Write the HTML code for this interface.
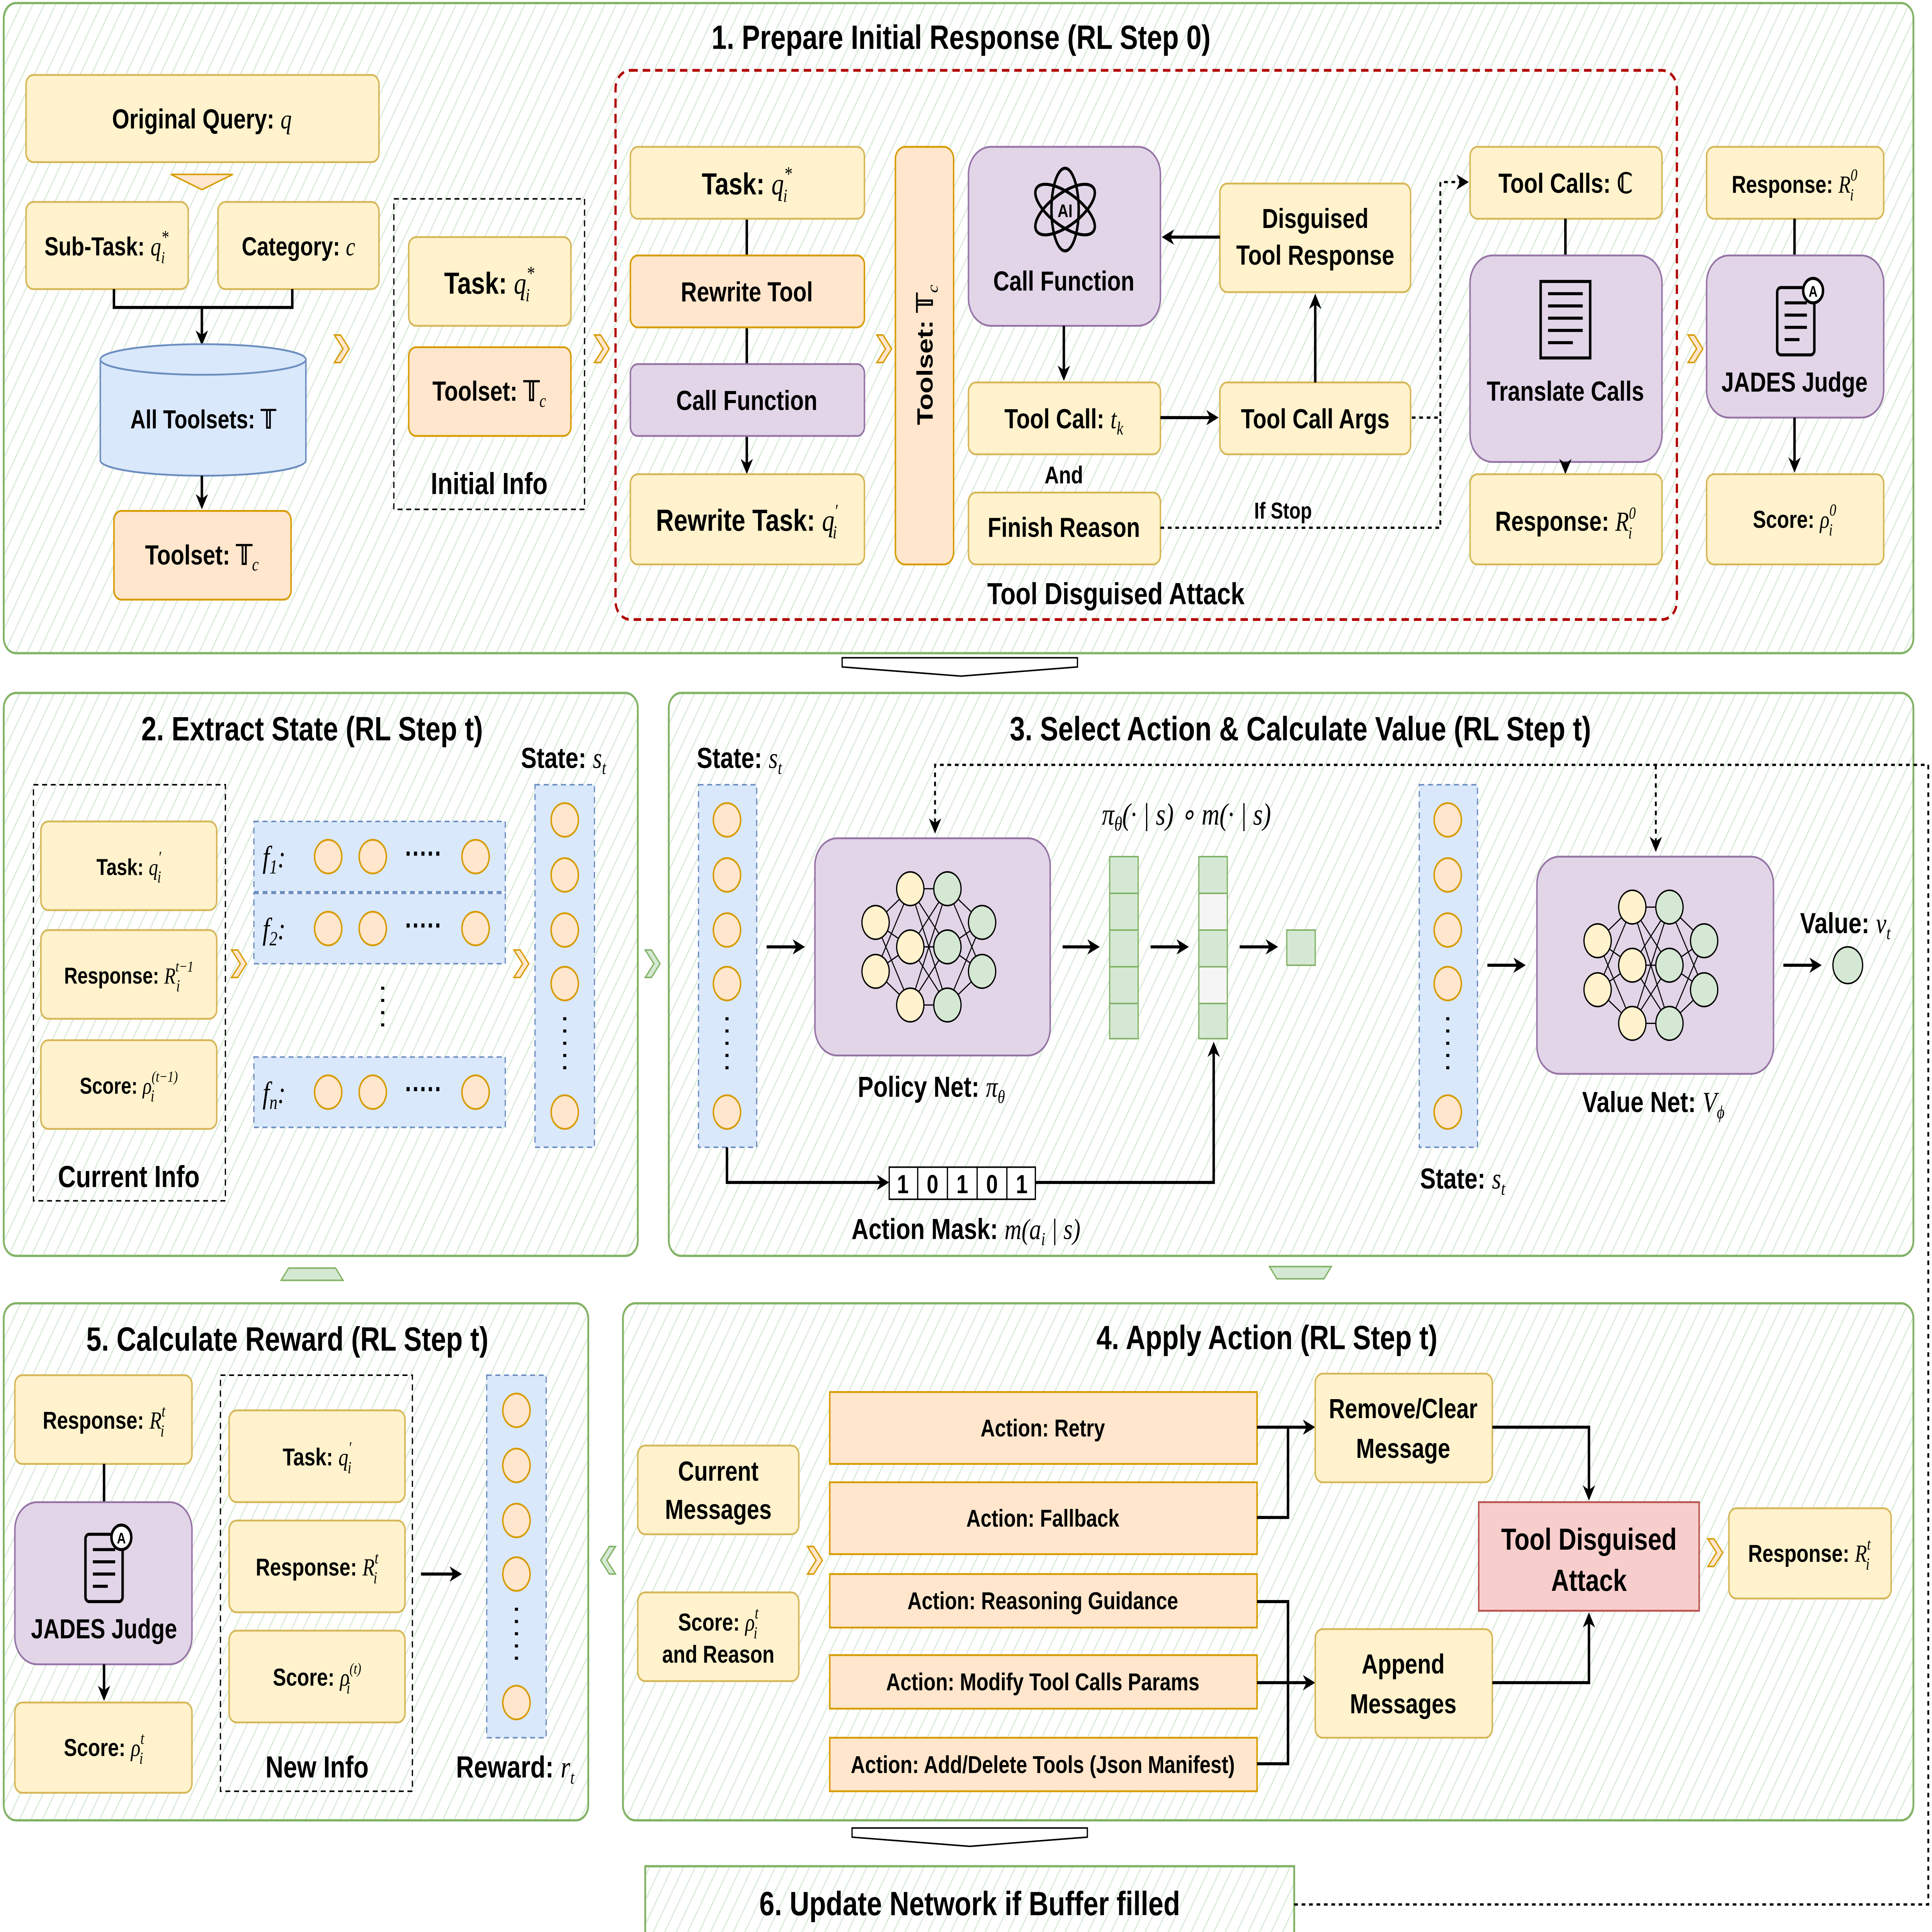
<!DOCTYPE html>
<html><head><meta charset="utf-8"><meta name="viewport" content="width=6585"><style>
html,body{margin:0;padding:0;background:#fff;width:100vw;height:100vh;overflow:hidden}
svg{display:block;width:100vw;height:100vh;position:fixed;left:0;top:0}
text{font-family:"Liberation Sans",sans-serif;font-weight:bold;fill:#000}
.m{font-family:"Liberation Serif",serif;font-style:italic;font-weight:normal}
.y{fill:#fff2cc;stroke:#d6b656;stroke-width:1.2}
.o{fill:#ffe6cc;stroke:#d79b00;stroke-width:1.2}
.p{fill:#e1d5e7;stroke:#9673a6;stroke-width:1.2}
.b{fill:#dae8fc;stroke:#6c8ebf;stroke-width:1.2}
.bd{fill:#dae8fc;stroke:#6c8ebf;stroke-width:1;stroke-dasharray:4 3}
.r{fill:#f8cecc;stroke:#b85450;stroke-width:1.2}
.g{fill:#d5e8d4;stroke:#82b366;stroke-width:1}
.pan{fill:url(#hatch);stroke:#82b366;stroke-width:1.5}
.ln{stroke:#000;stroke-width:2;fill:none}
.dl{stroke:#000;stroke-width:1.5;fill:none;stroke-dasharray:3 3}
.dash{fill:none;stroke:#000;stroke-width:1;stroke-dasharray:4 3}
.c{fill:#ffe6cc;stroke:#d79b00;stroke-width:1.2}
</style></head><body>
<svg viewBox="0 0 1560 1263" preserveAspectRatio="none" xmlns="http://www.w3.org/2000/svg">
<defs>
<pattern id="hatch" width="8" height="8" patternUnits="userSpaceOnUse" patternTransform="rotate(30)">
<rect width="8" height="8" fill="#ffffff"/><line x1="0" y1="0" x2="0" y2="8" stroke="#d5e8d4" stroke-width="1.6"/></pattern>
<marker id="a" markerWidth="10" markerHeight="10" refX="8" refY="5" orient="auto" markerUnits="userSpaceOnUse"><path d="M0,0 L10,5 L0,10 L3,5 z" fill="#000"/></marker>
<g id="oa"><path d="M0,-9 L5,-9 L12,0 L5,9 L0,9 L7,0 z" fill="#ffe6cc" stroke="#d79b00" stroke-width="1"/></g>
<g id="ga"><path d="M0,-9 L5,-9 L12,0 L5,9 L0,9 L7,0 z" fill="#d5e8d4" stroke="#82b366" stroke-width="1"/></g>
<g id="nn">
<g stroke="#000" stroke-width="0.8">
<path d="M-58,-16 L-30,-38 M-58,-16 L-30,0 M-58,-16 L-30,38 M-58,16 L-30,-38 M-58,16 L-30,0 M-58,16 L-30,38 M-30,-38 L0,-38 M-30,-38 L0,0 M-30,-38 L0,38 M-30,0 L0,-38 M-30,0 L0,0 M-30,0 L0,38 M-30,38 L0,-38 M-30,38 L0,0 M-30,38 L0,38 M0,-38 L28,-16 M0,0 L28,-16 M0,38 L28,-16 M0,-38 L28,16 M0,0 L28,16 M0,38 L28,16"/>
</g>
<g stroke="#000" stroke-width="1">
<circle cx="-58" cy="-16" r="11" fill="#fff2cc"/><circle cx="-58" cy="16" r="11" fill="#fff2cc"/>
<circle cx="-30" cy="-38" r="11" fill="#fff2cc"/><circle cx="-30" cy="0" r="11" fill="#fff2cc"/><circle cx="-30" cy="38" r="11" fill="#fff2cc"/>
<circle cx="0" cy="-38" r="11" fill="#d5e8d4"/><circle cx="0" cy="0" r="11" fill="#d5e8d4"/><circle cx="0" cy="38" r="11" fill="#d5e8d4"/>
<circle cx="28" cy="-16" r="11" fill="#d5e8d4"/><circle cx="28" cy="16" r="11" fill="#d5e8d4"/>
</g></g>
<g id="doc"><rect x="-15" y="-22" width="30" height="44" rx="3" fill="none" stroke="#000" stroke-width="2"/>
<path d="M-9,-12 h18 M-9,-4 h18 M-9,4 h18 M-9,12 h12" stroke="#000" stroke-width="2"/>
<circle cx="14" cy="-20" r="8" fill="#fff" stroke="#000" stroke-width="2"/><text x="14" y="-16" font-size="10" text-anchor="middle">A</text></g>
</defs>

<rect class="pan" x="3" y="2" width="1542" height="425" rx="10"/>
<rect class="pan" x="3" y="453" width="512" height="368" rx="10"/>
<rect class="pan" x="540" y="453" width="1005" height="368" rx="10"/>
<rect class="pan" x="3" y="852" width="472" height="338" rx="10"/>
<rect class="pan" x="503" y="852" width="1042" height="338" rx="10"/>
<rect class="pan" x="521" y="1220" width="524" height="47"/>

<text x="776" y="32" font-size="22" text-anchor="middle">1. Prepare Initial Response (RL Step 0)</text>
<text x="252" y="484" font-size="22" text-anchor="middle">2. Extract State (RL Step t)</text>
<text x="1050" y="484" font-size="22" text-anchor="middle">3. Select Action &amp; Calculate Value (RL Step t)</text>
<text x="232" y="883" font-size="22" text-anchor="middle">5. Calculate Reward (RL Step t)</text>
<text x="1023" y="882" font-size="22" text-anchor="middle">4. Apply Action (RL Step t)</text>
<text x="783" y="1252" font-size="22" text-anchor="middle">6. Update Network if Buffer filled</text>

<!-- Panel 1 -->
<rect class="y" x="21" y="49" width="285" height="57" rx="6"/>
<text x="163" y="84" font-size="18" text-anchor="middle">Original Query: <tspan class="m">q</tspan></text>
<path d="M138,114 h50 l-25,10 z" fill="#ffe6cc" stroke="#d79b00"/>
<rect class="y" x="21" y="132" width="131" height="57" rx="6"/>
<text x="86" y="167" font-size="17" text-anchor="middle">Sub-Task: <tspan class="m">q</tspan><tspan class="m" font-size="12" dy="-8">*</tspan><tspan class="m" font-size="11" dx="-6" dy="13">i</tspan></text>
<rect class="y" x="176" y="132" width="130" height="57" rx="6"/>
<text x="241" y="167" font-size="17" text-anchor="middle">Category: <tspan class="m">c</tspan></text>
<path class="ln" d="M92,189 V201 H236 V189"/>
<path class="ln" d="M163,201 V224" marker-end="url(#a)"/>
<path class="b" d="M81,235 v66 a83,10 0 0 0 166,0 v-66"/>
<ellipse class="b" cx="164" cy="235" rx="83" ry="10"/>
<text x="164" y="280" font-size="17" text-anchor="middle">All Toolsets: 𝕋</text>
<path class="ln" d="M163,311 V331" marker-end="url(#a)"/>
<rect class="o" x="92" y="334" width="143" height="58" rx="6"/>
<text x="163" y="369" font-size="18" text-anchor="middle">Toolset: 𝕋<tspan class="m" font-size="12" dy="4">c</tspan></text>
<use href="#oa" x="270" y="228"/>
<rect class="dash" x="318" y="130" width="154" height="203"/>
<rect class="y" x="330" y="155" width="131" height="58" rx="6"/>
<text x="395" y="192" font-size="20" text-anchor="middle">Task: <tspan class="m">q</tspan><tspan class="m" font-size="13" dy="-9">*</tspan><tspan class="m" font-size="12" dx="-7" dy="14">i</tspan></text>
<rect class="o" x="330" y="227" width="131" height="58" rx="6"/>
<text x="395" y="262" font-size="18" text-anchor="middle">Toolset: 𝕋<tspan class="m" font-size="12" dy="4">c</tspan></text>
<text x="395" y="323" font-size="20" text-anchor="middle">Initial Info</text>
<use href="#oa" x="480" y="228"/>

<rect x="497" y="46" width="857" height="359" rx="12" fill="none" stroke="#b20000" stroke-width="1.8" stroke-dasharray="6 4"/>
<text x="901" y="395" font-size="20" text-anchor="middle">Tool Disguised Attack</text>
<path class="ln" d="M603,143 V167 M603,214 V238"/>
<path class="ln" d="M603,285 V308" marker-end="url(#a)"/>
<rect class="y" x="509" y="96" width="189" height="47" rx="6"/>
<text x="603" y="127" font-size="20" text-anchor="middle">Task: <tspan class="m">q</tspan><tspan class="m" font-size="13" dy="-9">*</tspan><tspan class="m" font-size="12" dx="-7" dy="14">i</tspan></text>
<rect class="o" x="509" y="167" width="189" height="47" rx="6"/>
<text x="603" y="197" font-size="18" text-anchor="middle">Rewrite Tool</text>
<rect class="p" x="509" y="238" width="189" height="47" rx="6"/>
<text x="603" y="268" font-size="18" text-anchor="middle">Call Function</text>
<rect class="y" x="509" y="310" width="189" height="59" rx="6"/>
<text x="603" y="347" font-size="20" text-anchor="middle">Rewrite Task: <tspan class="m">q</tspan><tspan class="m" font-size="12" dy="-9">′</tspan><tspan class="m" font-size="12" dx="-4" dy="14">i</tspan></text>
<use href="#oa" x="708" y="228"/>
<rect class="o" x="723" y="96" width="47" height="273" rx="8"/>
<text transform="translate(753,232) rotate(-90)" font-size="18" text-anchor="middle">Toolset: 𝕋<tspan class="m" font-size="12" dy="4">c</tspan></text>
<use href="#oa" x="1363" y="228"/>

<rect class="p" x="782" y="96" width="155" height="117" rx="18"/>
<g fill="none" stroke="#000" stroke-width="2">
<ellipse cx="860" cy="137" rx="11" ry="27"/>
<ellipse cx="860" cy="137" rx="11" ry="27" transform="rotate(60 860 137)"/>
<ellipse cx="860" cy="137" rx="11" ry="27" transform="rotate(-60 860 137)"/>
</g>
<text x="860" y="142" font-size="12" text-anchor="middle" font-family="Liberation Mono">AI</text>
<text x="859" y="190" font-size="18" text-anchor="middle">Call Function</text>
<rect class="y" x="985" y="120" width="154" height="71" rx="6"/>
<text x="1062" y="149" font-size="18" text-anchor="middle">Disguised</text>
<text x="1062" y="173" font-size="18" text-anchor="middle">Tool Response</text>
<rect class="y" x="782" y="250" width="155" height="47" rx="6"/>
<text x="859" y="280" font-size="18" text-anchor="middle">Tool Call: <tspan class="m">t</tspan><tspan class="m" font-size="12" dy="4">k</tspan></text>
<rect class="y" x="985" y="250" width="154" height="47" rx="6"/>
<text x="1062" y="280" font-size="18" text-anchor="middle">Tool Call Args</text>
<text x="859" y="316" font-size="16" text-anchor="middle">And</text>
<rect class="y" x="782" y="322" width="155" height="47" rx="6"/>
<text x="859" y="351" font-size="18" text-anchor="middle">Finish Reason</text>
<path class="ln" d="M985,155 H940" marker-end="url(#a)"/>
<path class="ln" d="M859,213 V247" marker-end="url(#a)"/>
<path class="ln" d="M937,273 H982" marker-end="url(#a)"/>
<path class="ln" d="M1062,250 V194" marker-end="url(#a)"/>
<path class="dl" d="M1140,273 H1163 V119 H1184" marker-end="url(#a)"/>
<path class="dl" d="M937,345 H1163 V273"/>
<text x="1036" y="339" font-size="15" text-anchor="middle">If Stop</text>

<rect class="y" x="1187" y="96" width="155" height="47" rx="6"/>
<text x="1264" y="126" font-size="18" text-anchor="middle">Tool Calls: ℂ</text>
<path class="ln" d="M1264,143 V167"/>
<rect class="p" x="1187" y="167" width="155" height="135" rx="18"/>
<g transform="translate(1264,208)"><rect x="-20" y="-24" width="40" height="50" fill="none" stroke="#000" stroke-width="2"/>
<path d="M-14,-16 h28 M-14,-8 h28 M-14,0 h28 M-14,8 h28 M-14,16 h20" stroke="#000" stroke-width="2"/></g>
<text x="1264" y="262" font-size="18" text-anchor="middle">Translate Calls</text>
<path class="ln" d="M1264,302 V308" marker-end="url(#a)"/>
<rect class="y" x="1187" y="310" width="155" height="59" rx="6"/>
<text x="1264" y="347" font-size="18" text-anchor="middle">Response: <tspan class="m">R</tspan><tspan class="m" font-size="11" dy="-8">0</tspan><tspan class="m" font-size="11" dx="-6" dy="13">i</tspan></text>

<rect class="y" x="1378" y="96" width="143" height="47" rx="6"/>
<text x="1449" y="126" font-size="16" text-anchor="middle">Response: <tspan class="m">R</tspan><tspan class="m" font-size="11" dy="-8">0</tspan><tspan class="m" font-size="11" dx="-6" dy="13">i</tspan></text>
<path class="ln" d="M1449,143 V167"/>
<rect class="p" x="1378" y="167" width="143" height="106" rx="18"/>
<use href="#doc" x="1450" y="210"/>
<text x="1449" y="256" font-size="18" text-anchor="middle">JADES Judge</text>
<path class="ln" d="M1449,273 V307" marker-end="url(#a)"/>
<rect class="y" x="1378" y="310" width="143" height="59" rx="6"/>
<text x="1449" y="345" font-size="16" text-anchor="middle">Score: <tspan class="m">ρ</tspan><tspan class="m" font-size="11" dy="-8">0</tspan><tspan class="m" font-size="11" dx="-6" dy="13">i</tspan></text>

<path d="M680,430 H870 V436 L776,442 L680,436 z" fill="#fff" stroke="#000"/>
<path d="M688,1195 H878 V1201 L783,1207 L688,1201 z" fill="#fff" stroke="#000"/>

<!-- Panel 2 -->
<text x="455" y="502" font-size="19" text-anchor="middle">State: <tspan class="m">s</tspan><tspan class="m" font-size="12" dy="4">t</tspan></text>
<rect class="dash" x="27" y="513" width="155" height="272"/>
<rect class="y" x="33" y="537" width="142" height="58" rx="6"/>
<text x="104" y="572" font-size="15" text-anchor="middle">Task: <tspan class="m">q</tspan><tspan class="m" font-size="11" dy="-8">′</tspan><tspan class="m" font-size="11" dx="-3" dy="13">i</tspan></text>
<rect class="y" x="33" y="608" width="142" height="58" rx="6"/>
<text x="104" y="643" font-size="15" text-anchor="middle">Response: <tspan class="m">R</tspan><tspan class="m" font-size="10" dy="-8">t−1</tspan><tspan class="m" font-size="11" dx="-14" dy="13">i</tspan></text>
<rect class="y" x="33" y="680" width="142" height="58" rx="6"/>
<text x="104" y="715" font-size="15" text-anchor="middle">Score: <tspan class="m">ρ</tspan><tspan class="m" font-size="10" dy="-8">(t−1)</tspan><tspan class="m" font-size="11" dx="-22" dy="13">i</tspan></text>
<text x="104" y="776" font-size="20" text-anchor="middle">Current Info</text>
<use href="#oa" x="187" y="630"/>
<g>
<rect class="bd" x="205" y="537" width="203" height="46"/>
<rect class="bd" x="205" y="584" width="203" height="46"/>
<rect class="bd" x="205" y="691" width="203" height="46"/>
<text x="212" y="567" class="m" font-size="20">f<tspan font-size="13" dy="4">1</tspan><tspan dy="-4">:</tspan></text>
<text x="212" y="614" class="m" font-size="20">f<tspan font-size="13" dy="4">2</tspan><tspan dy="-4">:</tspan></text>
<text x="212" y="721" class="m" font-size="20">f<tspan font-size="13" dy="4">n</tspan><tspan dy="-4">:</tspan></text>
<circle class="c" cx="265" cy="560" r="11"/><circle class="c" cx="301" cy="560" r="11"/><circle class="c" cx="384" cy="560" r="11"/>
<circle class="c" cx="265" cy="607" r="11"/><circle class="c" cx="301" cy="607" r="11"/><circle class="c" cx="384" cy="607" r="11"/>
<circle class="c" cx="265" cy="714" r="11"/><circle class="c" cx="301" cy="714" r="11"/><circle class="c" cx="384" cy="714" r="11"/>
<text x="342" y="564" font-size="18" text-anchor="middle">·····</text>
<text x="342" y="611" font-size="18" text-anchor="middle">·····</text>
<text x="342" y="718" font-size="18" text-anchor="middle">·····</text>
<path d="M309,645 v30" stroke="#000" stroke-width="2.5" stroke-dasharray="2 6"/>
</g>
<use href="#oa" x="415" y="630"/>
<rect class="bd" x="432" y="513" width="48" height="237"/>
<g><circle class="c" cx="456" cy="536" r="11"/><circle class="c" cx="456" cy="572" r="11"/><circle class="c" cx="456" cy="608" r="11"/><circle class="c" cx="456" cy="643" r="11"/><circle class="c" cx="456" cy="727" r="11"/>
<path d="M456,665 v35" stroke="#000" stroke-width="2.5" stroke-dasharray="2 6"/></g>
<use href="#ga" x="521" y="630"/>

<!-- Panel 3 -->
<text x="597" y="502" font-size="19" text-anchor="middle">State: <tspan class="m">s</tspan><tspan class="m" font-size="12" dy="4">t</tspan></text>
<rect class="bd" x="564" y="513" width="47" height="237"/>
<g><circle class="c" cx="587" cy="536" r="11"/><circle class="c" cx="587" cy="572" r="11"/><circle class="c" cx="587" cy="608" r="11"/><circle class="c" cx="587" cy="643" r="11"/><circle class="c" cx="587" cy="727" r="11"/>
<path d="M587,665 v35" stroke="#000" stroke-width="2.5" stroke-dasharray="2 6"/></g>
<path class="ln" d="M619,619 H648" marker-end="url(#a)"/>
<rect class="p" x="658" y="548" width="190" height="142" rx="18"/>
<use href="#nn" x="765" y="619"/>
<text x="752" y="717" font-size="19" text-anchor="middle">Policy Net: <tspan class="m">π</tspan><tspan class="m" font-size="12" dy="4">θ</tspan></text>
<text x="958" y="539" class="m" font-size="20" text-anchor="middle">π<tspan font-size="13" dy="4">θ</tspan><tspan dy="-4">(· | s) ∘ m(· | s)</tspan></text>
<path class="ln" d="M858,619 H886" marker-end="url(#a)"/>
<g><rect class="g" x="896" y="560" width="23" height="24"/><rect class="g" x="896" y="584" width="23" height="24"/><rect class="g" x="896" y="608" width="23" height="24"/><rect class="g" x="896" y="632" width="23" height="24"/><rect class="g" x="896" y="656" width="23" height="23"/></g>
<path class="ln" d="M929,619 H958" marker-end="url(#a)"/>
<g><rect class="g" x="968" y="560" width="23" height="24"/><rect x="968" y="584" width="23" height="24" fill="#f5f5f5" stroke="#82b366"/><rect class="g" x="968" y="608" width="23" height="24"/><rect x="968" y="632" width="23" height="24" fill="#f5f5f5" stroke="#82b366"/><rect class="g" x="968" y="656" width="23" height="23"/></g>
<path class="ln" d="M1001,619 H1030" marker-end="url(#a)"/>
<rect class="g" x="1039" y="608" width="23" height="23"/>
<path class="ln" d="M587,750 V773 H716" marker-end="url(#a)"/>
<g><rect x="718" y="763" width="118" height="21" fill="#fff" stroke="#000"/>
<path d="M741,763 v21 M765,763 v21 M789,763 v21 M813,763 v21" stroke="#000"/>
<text x="729" y="780" font-size="17" text-anchor="middle">1</text><text x="753" y="780" font-size="17" text-anchor="middle">0</text><text x="777" y="780" font-size="17" text-anchor="middle">1</text><text x="801" y="780" font-size="17" text-anchor="middle">0</text><text x="825" y="780" font-size="17" text-anchor="middle">1</text></g>
<path class="ln" d="M836,773 H980 V683" marker-end="url(#a)"/>
<text x="780" y="810" font-size="19" text-anchor="middle">Action Mask: <tspan class="m">m(a</tspan><tspan class="m" font-size="12" dy="4">i</tspan><tspan class="m" dy="-4"> | s)</tspan></text>
<path class="dl" d="M1045,1245 H1557 V500 H755 V543" marker-end="url(#a)"/>
<path class="dl" d="M1337,500 V555" marker-end="url(#a)"/>
<rect class="bd" x="1146" y="513" width="47" height="237"/>
<g><circle class="c" cx="1169" cy="536" r="11"/><circle class="c" cx="1169" cy="572" r="11"/><circle class="c" cx="1169" cy="608" r="11"/><circle class="c" cx="1169" cy="643" r="11"/><circle class="c" cx="1169" cy="727" r="11"/>
<path d="M1169,665 v35" stroke="#000" stroke-width="2.5" stroke-dasharray="2 6"/></g>
<text x="1181" y="777" font-size="19" text-anchor="middle">State: <tspan class="m">s</tspan><tspan class="m" font-size="12" dy="4">t</tspan></text>
<path class="ln" d="M1201,631 H1230" marker-end="url(#a)"/>
<rect class="p" x="1241" y="560" width="191" height="142" rx="18"/>
<use href="#nn" x="1348" y="631"/>
<text x="1335" y="727" font-size="19" text-anchor="middle">Value Net: <tspan class="m">V</tspan><tspan class="m" font-size="12" dy="4">ϕ</tspan></text>
<path class="ln" d="M1440,631 H1469" marker-end="url(#a)"/>
<circle cx="1492" cy="631" r="12" fill="#d5e8d4" stroke="#000"/>
<text x="1490" y="610" font-size="19" text-anchor="middle">Value: <tspan class="m">v</tspan><tspan class="m" font-size="12" dy="4">t</tspan></text>
<path d="M1025,828 h50 l-6,8 h-38 z" fill="#d5e8d4" stroke="#82b366"/>
<path d="M227,837 h50 l-6,-8 h-38 z" fill="#d5e8d4" stroke="#82b366"/>

<!-- Panel 5 -->
<rect class="y" x="12" y="899" width="143" height="58" rx="6"/>
<text x="84" y="934" font-size="16" text-anchor="middle">Response: <tspan class="m">R</tspan><tspan class="m" font-size="11" dy="-8">t</tspan><tspan class="m" font-size="11" dx="-4" dy="13">i</tspan></text>
<path class="ln" d="M84,957 V982"/>
<rect class="p" x="12" y="982" width="143" height="106" rx="18"/>
<use href="#doc" x="84" y="1025"/>
<text x="84" y="1071" font-size="18" text-anchor="middle">JADES Judge</text>
<path class="ln" d="M84,1088 V1110" marker-end="url(#a)"/>
<rect class="y" x="12" y="1113" width="143" height="59" rx="6"/>
<text x="84" y="1148" font-size="16" text-anchor="middle">Score: <tspan class="m">ρ</tspan><tspan class="m" font-size="11" dy="-8">t</tspan><tspan class="m" font-size="11" dx="-4" dy="13">i</tspan></text>
<rect class="dash" x="178" y="899" width="155" height="272"/>
<rect class="y" x="185" y="922" width="142" height="60" rx="6"/>
<text x="256" y="958" font-size="16" text-anchor="middle">Task: <tspan class="m">q</tspan><tspan class="m" font-size="11" dy="-8">′</tspan><tspan class="m" font-size="11" dx="-3" dy="13">i</tspan></text>
<rect class="y" x="185" y="994" width="142" height="60" rx="6"/>
<text x="256" y="1030" font-size="16" text-anchor="middle">Response: <tspan class="m">R</tspan><tspan class="m" font-size="11" dy="-8">t</tspan><tspan class="m" font-size="11" dx="-4" dy="13">i</tspan></text>
<rect class="y" x="185" y="1066" width="142" height="60" rx="6"/>
<text x="256" y="1102" font-size="16" text-anchor="middle">Score: <tspan class="m">ρ</tspan><tspan class="m" font-size="10" dy="-8">(t)</tspan><tspan class="m" font-size="11" dx="-12" dy="13">i</tspan></text>
<text x="256" y="1162" font-size="20" text-anchor="middle">New Info</text>
<path class="ln" d="M340,1029 H371" marker-end="url(#a)"/>
<rect class="bd" x="393" y="899" width="48" height="237"/>
<g><circle class="c" cx="417" cy="922" r="11"/><circle class="c" cx="417" cy="958" r="11"/><circle class="c" cx="417" cy="994" r="11"/><circle class="c" cx="417" cy="1029" r="11"/><circle class="c" cx="417" cy="1113" r="11"/>
<path d="M417,1051 v35" stroke="#000" stroke-width="2.5" stroke-dasharray="2 6"/></g>
<text x="416" y="1162" font-size="20" text-anchor="middle">Reward: <tspan class="m">r</tspan><tspan class="m" font-size="12" dy="4">t</tspan></text>
<g transform="translate(497,1020) scale(-1,1)"><use href="#ga" x="0" y="0"/></g>

<!-- Panel 4 -->
<rect class="y" x="515" y="945" width="130" height="58" rx="6"/>
<text x="580" y="968" font-size="18" text-anchor="middle">Current</text>
<text x="580" y="993" font-size="18" text-anchor="middle">Messages</text>
<rect class="y" x="515" y="1041" width="130" height="58" rx="6"/>
<text x="580" y="1066" font-size="16" text-anchor="middle">Score: <tspan class="m">ρ</tspan><tspan class="m" font-size="11" dy="-8">t</tspan><tspan class="m" font-size="11" dx="-4" dy="13">i</tspan></text>
<text x="580" y="1087" font-size="16" text-anchor="middle">and Reason</text>
<use href="#oa" x="652" y="1020"/>
<rect class="o" x="670" y="910" width="345" height="47"/>
<text x="842" y="939" font-size="16" text-anchor="middle">Action: Retry</text>
<rect class="o" x="670" y="969" width="345" height="47"/>
<text x="842" y="998" font-size="16" text-anchor="middle">Action: Fallback</text>
<rect class="o" x="670" y="1029" width="345" height="35"/>
<text x="842" y="1052" font-size="16" text-anchor="middle">Action: Reasoning Guidance</text>
<rect class="o" x="670" y="1082" width="345" height="35"/>
<text x="842" y="1105" font-size="16" text-anchor="middle">Action: Modify Tool Calls Params</text>
<rect class="o" x="670" y="1136" width="345" height="35"/>
<text x="842" y="1159" font-size="16" text-anchor="middle">Action: Add/Delete Tools (Json Manifest)</text>
<path class="ln" d="M1015,933 H1040 M1015,992 H1040 V933"/>
<path class="ln" d="M1040,933 H1060" marker-end="url(#a)"/>
<path class="ln" d="M1015,1047 H1040 V1153 H1015 M1015,1100 H1040"/>
<path class="ln" d="M1040,1100 H1060" marker-end="url(#a)"/>
<rect class="y" x="1062" y="898" width="143" height="71" rx="6"/>
<text x="1133" y="927" font-size="18" text-anchor="middle">Remove/Clear</text>
<text x="1133" y="953" font-size="18" text-anchor="middle">Message</text>
<rect class="y" x="1062" y="1065" width="143" height="71" rx="6"/>
<text x="1133" y="1094" font-size="18" text-anchor="middle">Append</text>
<text x="1133" y="1120" font-size="18" text-anchor="middle">Messages</text>
<rect class="r" x="1194" y="982" width="178" height="71"/>
<text x="1283" y="1013" font-size="20" text-anchor="middle">Tool Disguised</text>
<text x="1283" y="1040" font-size="20" text-anchor="middle">Attack</text>
<path class="ln" d="M1205,933 H1283 V979" marker-end="url(#a)"/>
<path class="ln" d="M1205,1100 H1283 V1056" marker-end="url(#a)"/>
<use href="#oa" x="1379" y="1015"/>
<rect class="y" x="1396" y="986" width="131" height="59" rx="6"/>
<text x="1461" y="1021" font-size="16" text-anchor="middle">Response: <tspan class="m">R</tspan><tspan class="m" font-size="11" dy="-8">t</tspan><tspan class="m" font-size="11" dx="-4" dy="13">i</tspan></text>
</svg>
</body></html>
